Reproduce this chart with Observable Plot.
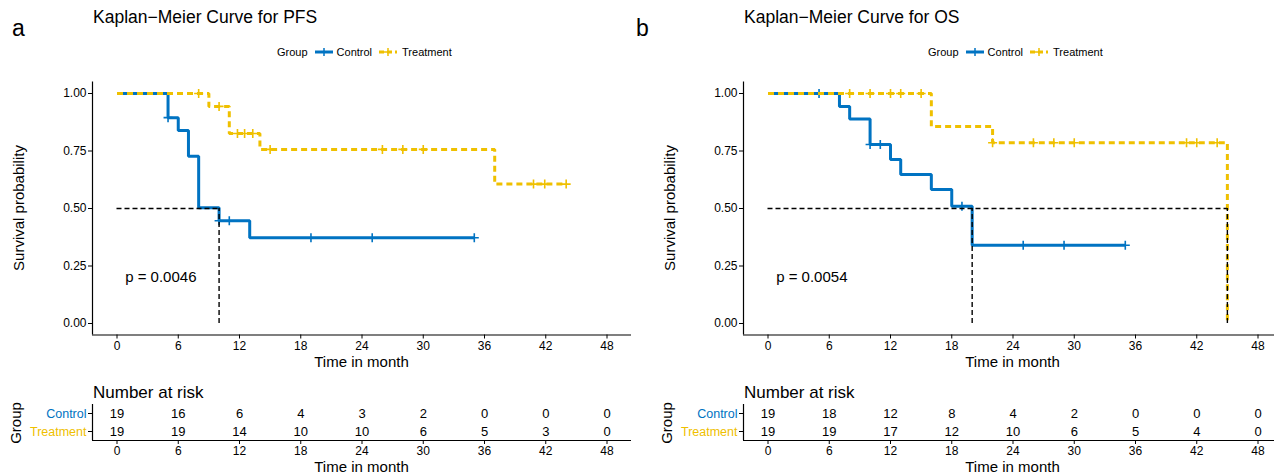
<!DOCTYPE html>
<html><head><meta charset="utf-8">
<script src="https://cdn.jsdelivr.net/npm/d3@7"></script>
<script src="https://cdn.jsdelivr.net/npm/@observablehq/plot@0.6"></script>
<style>
body{margin:0;overflow:hidden;background:#fff;font-family:"Liberation Sans",Arial,sans-serif;color:#000;}
#root{position:relative;width:1274px;height:473px;overflow:hidden;background:#fff;}
.abs{position:absolute;white-space:nowrap;line-height:1;}
.rot{transform:translate(-50%,-50%) rotate(-90deg);}
.ctr{transform:translate(-50%,-50%);}
.vc{transform:translateY(-50%);}
svg{display:block;max-width:none !important;}
</style></head><body><div id="root"></div>
<script>
// ---------- data ----------
const groups = ["Control", "Treatment"];
const colors = ["#0073C2", "#EFC000"];
const timeTicks = [0, 6, 12, 18, 24, 30, 36, 42, 48];
const survTicks = [0, 0.25, 0.5, 0.75, 1];

// PFS
const pfsControlTime = [0, 5, 6, 7, 8, 10, 13, 35];
const pfsControlSurv = [1, 0.895, 0.839, 0.727, 0.503, 0.447, 0.373, 0.373];
const pfsControlCensor = [5, 10, 11, 19, 25, 35];
const pfsTreatTime = [0, 9, 11, 14, 37, 44];
const pfsTreatSurv = [1, 0.944, 0.826, 0.757, 0.606, 0.606];
const pfsTreatCensor = [8, 10, 11.8, 12.5, 13.3, 15, 26, 28, 30, 40.8, 41.9, 44];
const pfsRiskControl = [19, 16, 6, 4, 3, 2, 0, 0, 0];
const pfsRiskTreat = [19, 19, 14, 10, 10, 6, 5, 3, 0];
const pfsPValue = "p = 0.0046";

// OS
const osControlTime = [0, 7, 8, 10, 12, 13, 16, 18, 20, 35];
const osControlSurv = [1, 0.944, 0.889, 0.778, 0.713, 0.648, 0.583, 0.510, 0.340, 0.340];
const osControlCensor = [5, 10, 11, 19, 25, 29, 35];
const osTreatTime = [0, 16, 22, 45];
const osTreatSurv = [1, 0.857, 0.786, 0];
const osTreatCensor = [8, 10, 12, 13, 15, 22, 26, 28, 30, 41, 42, 44];
const osRiskControl = [19, 18, 12, 8, 4, 2, 0, 0, 0];
const osRiskTreat = [19, 19, 17, 12, 10, 6, 5, 4, 0];
const osPValue = "p = 0.0054";

// ---------- helpers ----------
const FONT = '"Liberation Sans", Arial, sans-serif';
const XDOM = [-2.4, 50.4];
const root = document.getElementById("root");

function stepValue(time, surv, t) {
  let s = surv[0];
  for (let j = 0; j < time.length; j++) if (time[j] <= t) s = surv[j];
  return s;
}
function medianTime(time, surv) {
  for (let j = 0; j < time.length; j++) if (surv[j] <= 0.5) return time[j];
  return null;
}
const plusSymbol = {
  draw(ctx, size) {
    const r = Math.sqrt(size / Math.PI);
    ctx.moveTo(-r, 0); ctx.lineTo(r, 0);
    ctx.moveTo(0, -r); ctx.lineTo(0, r);
  }
};

function place(el, left, top, w, h) {
  const d = document.createElement("div");
  d.className = "abs";
  d.style.left = left + "px";
  d.style.top = top + "px";
  d.style.width = w + "px";
  d.style.height = h + "px";
  d.appendChild(el);
  root.appendChild(d);
}
function label(text, x, y, cls, size, extra = {}) {
  const d = document.createElement("div");
  d.className = "abs " + (cls || "");
  d.textContent = text;
  d.style.left = x + "px";
  d.style.top = y + "px";
  d.style.fontSize = size + "px";
  Object.assign(d.style, extra);
  root.appendChild(d);
  return d;
}

function kmPlot(curves, pText) {
  const marks = [
    Plot.ruleX([XDOM[0]], {stroke: "#000", strokeWidth: 1.2}),
    Plot.ruleY([-0.05], {stroke: "#000", strokeWidth: 1.2}),
    Plot.axisX({ticks: timeTicks, tickSize: 4, tickPadding: 2, label: null, fontSize: 12}),
    Plot.axisY({ticks: survTicks, tickSize: 4, tickPadding: 2, tickFormat: d3.format(".2f"), label: null, fontSize: 12})
  ];
  curves.forEach((c, i) => {
    const pts = c.time.map((t, j) => ({t, s: c.surv[j]}));
    const opts = {x: "t", y: "s", curve: "step-after", stroke: colors[i], strokeWidth: 3, strokeLinejoin: "miter", strokeLinecap: "butt"};
    if (i === 1) opts.strokeDasharray = "6,4";
    marks.push(Plot.line(pts, opts));
    const cens = c.censor.map(t => ({t, s: stepValue(c.time, c.surv, t)}));
    marks.push(Plot.dot(cens, {x: "t", y: "s", symbol: plusSymbol, r: 4.5, stroke: colors[i], fill: "none", strokeWidth: 1.6}));
  });
  const meds = curves.map(c => medianTime(c.time, c.surv)).filter(m => m != null);
  if (meds.length) {
    marks.push(Plot.ruleY([{y: 0.5, x1: 0, x2: d3.max(meds)}], {y: "y", x1: "x1", x2: "x2", stroke: "#000", strokeWidth: 1.4, strokeDasharray: "5,3"}));
    marks.push(Plot.ruleX(meds.map(m => ({x: m, y1: 0, y2: 0.5})), {x: "x", y1: "y1", y2: "y2", stroke: "#000", strokeWidth: 1.4, strokeDasharray: "5,3"}));
  }
  marks.push(Plot.text([pText], {x: 0.8, y: 0.2, text: d => d, textAnchor: "start", fontSize: 15, fill: "#000"}));
  return Plot.plot({
    width: 640, height: 370,
    marginLeft: 92, marginRight: 9, marginTop: 81.5, marginBottom: 35.5,
    x: {domain: XDOM},
    y: {domain: [-0.05, 1.05]},
    style: {fontFamily: FONT, fontSize: "12px", color: "#000", background: "transparent", overflow: "visible", maxWidth: "none"},
    marks
  });
}

function riskPlot(riskC, riskT) {
  const rows = [];
  timeTicks.forEach((t, k) => {
    rows.push({t, g: 1, n: riskC[k]});
    rows.push({t, g: 2, n: riskT[k]});
  });
  return Plot.plot({
    width: 640, height: 103,
    marginLeft: 92, marginRight: 9, marginTop: 34, marginBottom: 33,
    x: {domain: XDOM},
    y: {domain: [2.5, 0.5]},
    style: {fontFamily: FONT, fontSize: "12px", color: "#000", background: "transparent", overflow: "visible", maxWidth: "none"},
    marks: [
      Plot.ruleX([XDOM[0]], {stroke: "#000", strokeWidth: 1.2}),
      Plot.ruleY([2.5], {stroke: "#000", strokeWidth: 1.2}),
      Plot.axisX({ticks: timeTicks, tickSize: 4, tickPadding: 2, label: null, fontSize: 12}),
      Plot.axisY({ticks: [1, 2], tickSize: 4, tickPadding: 2, tickFormat: i => groups[i - 1], fill: i => colors[i - 1], label: null, fontSize: 12.5}),
      Plot.text(rows, {x: "t", y: "g", text: "n", fontSize: 13, fill: "#000"})
    ]
  });
}

function legendSwatch(i) {
  const ns = "http://www.w3.org/2000/svg";
  const s = document.createElementNS(ns, "svg");
  s.setAttribute("width", 18); s.setAttribute("height", 12);
  s.style.display = "inline-block";
  s.style.verticalAlign = "middle";
  const l = document.createElementNS(ns, "line");
  l.setAttribute("x1", 0); l.setAttribute("x2", 18); l.setAttribute("y1", 6); l.setAttribute("y2", 6);
  l.setAttribute("stroke", colors[i]); l.setAttribute("stroke-width", 3);
  if (i === 1) l.setAttribute("stroke-dasharray", "5,3");
  s.appendChild(l);
  const p = document.createElementNS(ns, "path");
  p.setAttribute("d", "M5,6H13M9,2V10");
  p.setAttribute("stroke", colors[i]); p.setAttribute("stroke-width", 1.5);
  s.appendChild(p);
  return s;
}
function legend(x, y) {
  const d = document.createElement("div");
  d.className = "abs vc";
  d.style.left = x + "px"; d.style.top = y + "px";
  d.style.fontSize = "11px";
  d.style.display = "flex"; d.style.alignItems = "center";
  const add = (txt, ml) => { const sp = document.createElement("span"); sp.textContent = txt; sp.style.marginLeft = ml + "px"; d.appendChild(sp); };
  add("Group", 0);
  const s1 = legendSwatch(0); s1.style.marginLeft = "7px"; d.appendChild(s1);
  add("Control", 4);
  const s2 = legendSwatch(1); s2.style.marginLeft = "7px"; d.appendChild(s2);
  add("Treatment", 5);
  root.appendChild(d);
}

// ---------- panels ----------
function panel(off, letter, letterX, title, curves, pText, riskC, riskT) {
  place(kmPlot(curves, pText), off, 0, 640, 370);
  place(riskPlot(riskC, riskT), off, 370, 640, 103);
  label(letter, letterX, 28, "vc", 23);
  label(title, off + 93, 18, "vc", 17.5);
  legend(off + 277, 52);
  label("Survival probability", off + 18, 208, "rot", 15);
  label("Time in month", off + 361.5, 361, "ctr", 15);
  label("Number at risk", off + 93, 392, "vc", 17);
  label("Group", off + 15, 423, "rot", 15);
  label("Time in month", off + 361.5, 466, "ctr", 15);
}

panel(0, "a", 12, "Kaplan\u2212Meier Curve for PFS",
  [{time: pfsControlTime, surv: pfsControlSurv, censor: pfsControlCensor},
   {time: pfsTreatTime, surv: pfsTreatSurv, censor: pfsTreatCensor}],
  pfsPValue, pfsRiskControl, pfsRiskTreat);
panel(651, "b", 636, "Kaplan\u2212Meier Curve for OS",
  [{time: osControlTime, surv: osControlSurv, censor: osControlCensor},
   {time: osTreatTime, surv: osTreatSurv, censor: osTreatCensor}],
  osPValue, osRiskControl, osRiskTreat);
</script></body></html>
